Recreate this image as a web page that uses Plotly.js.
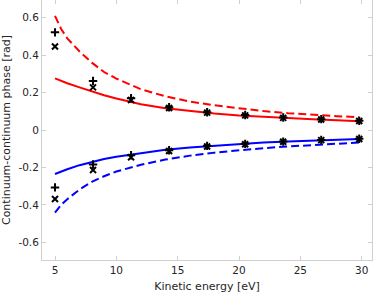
<!DOCTYPE html>
<html>
<head>
<meta charset="utf-8">
<script src="https://cdn.plot.ly/plotly-3.0.1.min.js"></script>
<style>html,body{margin:0;padding:0;background:#fff;}#chart{width:374px;height:293px;}</style>
</head>
<body>
<div id="chart"></div>
<script>
// Curve sample energies (eV)
const curveE = [5, 5.5, 6, 7, 8, 9, 10, 11, 12, 14, 16, 18, 20, 22, 24, 26, 28, 29.8];
const redSolid = [0.276, 0.262, 0.25, 0.228, 0.206, 0.186, 0.168, 0.152, 0.138, 0.116, 0.1, 0.088, 0.078, 0.07, 0.063, 0.057, 0.052, 0.047];
const redDashed = [0.61, 0.54, 0.49, 0.42, 0.36, 0.31, 0.275, 0.245, 0.218, 0.18, 0.152, 0.132, 0.115, 0.101, 0.09, 0.081, 0.074, 0.068];
const blueSolid = [-0.235, -0.222, -0.21, -0.188, -0.17, -0.155, -0.143, -0.134, -0.123, -0.106, -0.093, -0.083, -0.074, -0.067, -0.061, -0.056, -0.052, -0.048];
const blueDashed = [-0.442, -0.4, -0.37, -0.318, -0.277, -0.247, -0.222, -0.203, -0.186, -0.158, -0.137, -0.121, -0.108, -0.097, -0.088, -0.08, -0.073, -0.067];

// Marker energies (eV)
const pointE = [5, 8.1, 11.2, 14.3, 17.4, 20.5, 23.6, 26.7, 29.8];
const redPlus = [0.522, 0.262, 0.17, 0.122, 0.095, 0.08, 0.067, 0.058, 0.049];
const redCross = [0.446, 0.228, 0.16, 0.118, 0.093, 0.078, 0.065, 0.056, 0.048];
const bluePlus = [-0.307, -0.184, -0.135, -0.108, -0.085, -0.074, -0.062, -0.053, -0.047];
const blueCross = [-0.369, -0.214, -0.146, -0.112, -0.088, -0.076, -0.063, -0.054, -0.048];

// Tick labels
const yTickVals = [-0.6, -0.4, -0.2, 0, 0.2, 0.4, 0.6];
const yTickText = ['-0.6', '-0.4', '-0.2', '0', '0.2', '0.4', '0.6'];
const xTickVals = [5, 10, 15, 20, 25, 30];
const xTickText = ['5', '10', '15', '20', '25', '30'];

function line(y, color, dash) {
  return {x: curveE, y: y, mode: 'lines', type: 'scatter', line: {color: color, width: 2, dash: dash}, hoverinfo: 'skip'};
}
function pts(y, symbol) {
  return {x: pointE, y: y, mode: 'markers', type: 'scatter', hoverinfo: 'skip',
    marker: {symbol: symbol, size: 6, color: '#000', line: {color: '#000', width: 2}}};
}

const data = [
  line(redSolid, '#ff0000', 'solid'),
  line(redDashed, '#ff0000', '8px,4px'),
  line(blueSolid, '#0000ff', 'solid'),
  line(blueDashed, '#0000ff', '8px,4px'),
  pts(redPlus, 'cross-thin'),
  pts(redCross, 'x-thin'),
  pts(bluePlus, 'cross-thin'),
  pts(blueCross, 'x-thin')
];

const axisCommon = {
  showline: true, linecolor: '#cfcfcf', linewidth: 1, mirror: 'allticks',
  ticks: 'inside', ticklen: 4, tickcolor: '#cfcfcf', tickwidth: 1,
  showgrid: false, zeroline: false,
  tickfont: {family: 'DejaVu Sans', size: 10.5, color: '#262626'}
};

const titleFont = {family: 'DejaVu Sans', size: 11, color: '#262626'};

const layout = {
  width: 374, height: 293,
  margin: {l: 42, r: 2, t: 0, b: 33},
  paper_bgcolor: '#fff', plot_bgcolor: '#fff',
  showlegend: false,
  font: {family: 'DejaVu Sans', size: 10, color: '#262626'},
  xaxis: Object.assign({}, axisCommon, {
    range: [3.94, 30.84], tickvals: xTickVals, ticktext: xTickText,
    title: {text: 'Kinetic energy [eV]', font: titleFont, standoff: 8}
  }),
  yaxis: Object.assign({}, axisCommon, {
    range: [-0.695, 0.695], tickvals: yTickVals, ticktext: yTickText,
    title: {text: 'Continuum-continuum phase [rad]', font: titleFont, standoff: 5}
  })
};

Plotly.newPlot('chart', data, layout, {staticPlot: true, displayModeBar: false});
</script>
</body>
</html>
